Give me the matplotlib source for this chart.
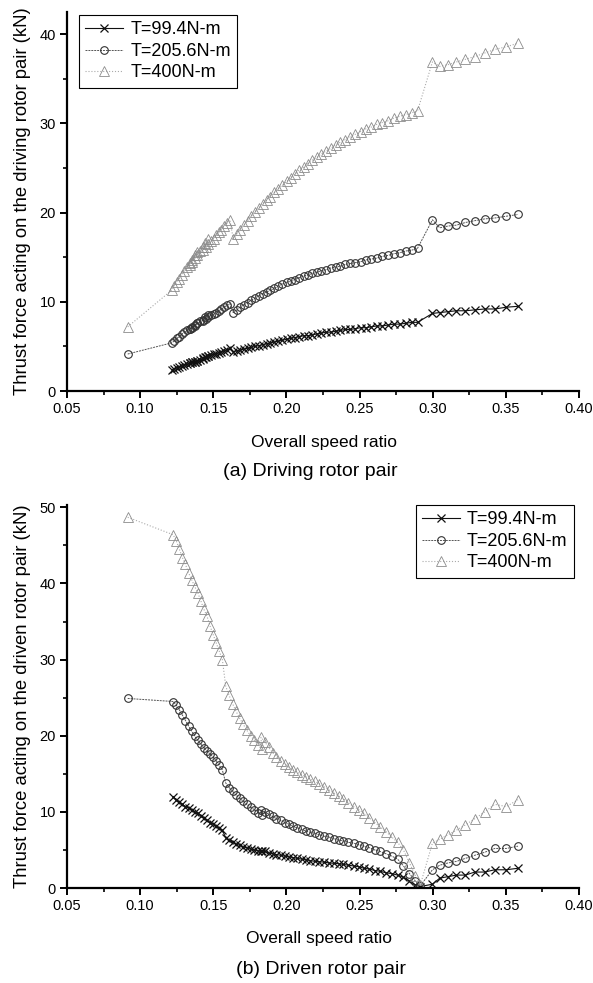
import numpy as np
import matplotlib
matplotlib.use('Agg')
import matplotlib.pyplot as plt
from matplotlib.ticker import MultipleLocator

plt.rcParams['font.family'] = ['Liberation Sans', 'DejaVu Sans']

labels = ['T=99.4N-m', 'T=205.6N-m', 'T=400N-m']

# ---- (a) driving rotor pair ----
# speed ratios in computation order (segments overlap, hence the saw-tooth)
drv_x = [0.0915,
         0.1215, 0.1233, 0.1250, 0.1268, 0.1285, 0.1303, 0.1320, 0.1338, 0.1355, 0.1373, 0.1390,
         0.1340, 0.1357, 0.1375, 0.1392, 0.1410, 0.1427, 0.1445, 0.1462,
         0.1430, 0.1448, 0.1466, 0.1484, 0.1502, 0.1520, 0.1538, 0.1556, 0.1574, 0.1592, 0.1613,
         0.1636, 0.1660, 0.1685, 0.1710, 0.1735, 0.1760, 0.1786, 0.1812, 0.1838, 0.1864,
         0.1891, 0.1918, 0.1945, 0.1973, 0.2001, 0.2029, 0.2058, 0.2087, 0.2117, 0.2147,
         0.2177, 0.2208, 0.2239, 0.2271, 0.2303, 0.2336, 0.2369, 0.2403, 0.2437, 0.2472,
         0.2507, 0.2543, 0.2580, 0.2617, 0.2655, 0.2694, 0.2734, 0.2774, 0.2815, 0.2857, 0.2896,
         0.2998, 0.3048, 0.3105, 0.3162, 0.3224, 0.3287, 0.3355, 0.3424, 0.3503, 0.3583]

# T=99.4 has no point at the lowest ratio
drv_t99 = [np.nan,
           2.4, 2.5, 2.6, 2.7, 2.8, 2.9, 3.0, 3.1, 3.2, 3.3, 3.4,
           3.1, 3.2, 3.3, 3.4, 3.5, 3.6, 3.8, 3.9,
           3.7, 3.8, 3.9, 4.0, 4.1, 4.2, 4.3, 4.4, 4.5, 4.6, 4.8,
           4.4, 4.5, 4.6, 4.7, 4.8, 4.9, 5.0, 5.1, 5.2, 5.3,
           5.4, 5.5, 5.6, 5.7, 5.8, 5.9, 6.0, 6.1, 6.2, 6.2,
           6.3, 6.4, 6.5, 6.6, 6.6, 6.7, 6.8, 6.9, 6.9, 7.0,
           7.1, 7.1, 7.2, 7.3, 7.3, 7.4, 7.5, 7.5, 7.6, 7.7, 7.7,
           8.7, 8.8, 8.9, 9.0, 9.0, 9.1, 9.2, 9.2, 9.4, 9.5]

drv_t205 = [4.15,
            5.4, 5.6, 5.9, 6.1, 6.4, 6.6, 6.8, 7.0, 7.2, 7.4, 7.6,
            6.9, 7.1, 7.3, 7.6, 7.8, 8.0, 8.3, 8.5,
            7.9, 8.1, 8.3, 8.5, 8.6, 8.8, 9.0, 9.2, 9.4, 9.6, 9.8,
            8.8, 9.1, 9.4, 9.7, 9.9, 10.2, 10.4, 10.7, 10.9, 11.1,
            11.3, 11.5, 11.8, 12.0, 12.2, 12.3, 12.5, 12.7, 12.9, 13.0,
            13.2, 13.3, 13.5, 13.6, 13.8, 13.9, 14.0, 14.2, 14.3, 14.4,
            14.5, 14.7, 14.8, 14.9, 15.1, 15.2, 15.4, 15.5, 15.7, 15.8, 16.0,
            19.2, 18.3, 18.5, 18.6, 18.9, 19.1, 19.3, 19.4, 19.6, 19.8]

drv_t400 = [7.2,
            11.3, 11.8, 12.2, 12.6, 13.0, 13.5, 13.9, 14.3, 14.7, 15.2, 15.6,
            14.1, 14.5, 14.9, 15.3, 15.7, 16.1, 16.6, 17.0,
            15.8, 16.2, 16.5, 16.8, 17.1, 17.5, 17.8, 18.1, 18.5, 18.8, 19.2,
            17.1, 17.6, 18.1, 18.6, 19.1, 19.6, 20.1, 20.5, 21.0, 21.4,
            21.8, 22.3, 22.7, 23.1, 23.5, 23.9, 24.3, 24.8, 25.1, 25.5,
            25.9, 26.2, 26.6, 26.9, 27.2, 27.6, 27.9, 28.2, 28.5, 28.8,
            29.1, 29.4, 29.6, 29.9, 30.1, 30.3, 30.6, 30.8, 31.0, 31.2, 31.4,
            36.9, 36.4, 36.6, 36.9, 37.2, 37.5, 37.9, 38.3, 38.6, 39.0]

# ---- (b) driven rotor pair ----
dvn_x = [0.0915,
         0.1226, 0.1247, 0.1268, 0.1289, 0.1310, 0.1331, 0.1352, 0.1373, 0.1394,
         0.1415, 0.1436, 0.1457, 0.1478, 0.1499, 0.1520, 0.1541, 0.1562,
         0.1585, 0.1608, 0.1632, 0.1656, 0.1680, 0.1705, 0.1730, 0.1755, 0.1780, 0.1806, 0.1832,
         0.1826, 0.1852, 0.1878, 0.1905, 0.1932, 0.1960, 0.1988, 0.2016, 0.2045, 0.2074,
         0.2104, 0.2134, 0.2164, 0.2195, 0.2226, 0.2258, 0.2290, 0.2323, 0.2356, 0.2390,
         0.2424, 0.2459, 0.2494, 0.2530, 0.2567, 0.2604, 0.2642, 0.2681, 0.2720, 0.2760,
         0.2800, 0.2841, 0.2882, 0.2915,
         0.2998, 0.3048, 0.3105, 0.3162, 0.3224, 0.3287, 0.3355, 0.3424, 0.3503, 0.3583]

dvn_t99 = [np.nan,
           12.0, 11.6, 11.3, 11.0, 10.7, 10.5, 10.2, 10.0, 9.8,
           9.5, 9.2, 8.9, 8.6, 8.4, 8.1, 7.9, 7.6,
           6.6, 6.3, 6.0, 5.8, 5.6, 5.4, 5.3, 5.1, 5.0, 4.9, 4.8,
           4.9, 4.8, 4.6, 4.5, 4.4, 4.3, 4.2, 4.1, 4.0, 3.9,
           3.8, 3.7, 3.6, 3.5, 3.45, 3.4, 3.3, 3.25, 3.2, 3.1,
           3.0, 2.9, 2.8, 2.6, 2.5, 2.3, 2.2, 2.0, 1.9, 1.7,
           1.4, 0.9, 0.4, 0.2,
           0.5, 1.3, 1.5, 1.7, 1.7, 2.1, 2.1, 2.4, 2.4, 2.6]

dvn_t205 = [24.9,
            24.5, 24.0, 23.4, 22.7, 22.0, 21.3, 20.6, 20.0, 19.4,
            18.9, 18.4, 18.0, 17.6, 17.2, 16.7, 16.1, 15.5,
            13.8, 13.2, 12.7, 12.2, 11.8, 11.4, 11.0, 10.6, 10.3, 9.9, 9.6,
            10.3, 10.0, 9.7, 9.4, 9.1, 8.9, 8.6, 8.4, 8.1, 7.9,
            7.7, 7.5, 7.3, 7.2, 7.0, 6.8, 6.7, 6.5, 6.3, 6.2,
            6.0, 5.9, 5.7, 5.5, 5.3, 5.0, 4.8, 4.5, 4.2, 3.8,
            2.9, 1.9, 0.9, 0.3,
            2.4, 3.0, 3.3, 3.5, 3.9, 4.3, 4.7, 5.2, 5.2, 5.5]

dvn_t400 = [48.7,
            46.4, 45.6, 44.5, 43.4, 42.5, 41.4, 40.5, 39.6, 38.8,
            37.7, 36.6, 35.7, 34.4, 33.3, 32.2, 31.1, 30.0,
            26.5, 25.3, 24.2, 23.2, 22.3, 21.5, 20.7, 20.0, 19.4, 18.8, 18.2,
            19.8, 19.2, 18.5, 17.8, 17.2, 16.7, 16.3, 15.9, 15.5, 15.2,
            14.9, 14.6, 14.3, 14.0, 13.7, 13.3, 12.9, 12.5, 12.1, 11.7,
            11.2, 10.7, 10.3, 9.8, 9.2, 8.6, 8.0, 7.4, 6.7, 6.0,
            5.0, 3.3, 1.6, 0.4,
            5.9, 6.4, 7.0, 7.6, 8.3, 9.1, 10.0, 11.0, 10.7, 11.6]

styles = [
    dict(color='#111111', ls='-', lw=0.8, marker='x', ms=6, mew=0.9,
         mfc='none', mec='#111111'),
    dict(color='#555555', ls=(0, (2, 1)), lw=0.7, marker='o', ms=5.5, mew=0.8,
         mfc='none', mec='#333333'),
    dict(color='#aaaaaa', ls=':', lw=0.8, marker='^', ms=6.5, mew=0.6,
         mfc='none', mec='#8c8c8c'),
]

fig = plt.figure(figsize=(5.93, 9.83), dpi=100)
ax1 = fig.add_axes([0.1130, 0.6022, 0.8634, 0.3856])
ax2 = fig.add_axes([0.1130, 0.0966, 0.8634, 0.3896])


def draw(ax, x, series, ylabel, ytop, ymajor, legend_loc, legend_anchor):
    for y, st, lab in zip(series, styles, labels):
        ax.plot(x, y, label=lab, **st)
    ax.set_xlim(0.05, 0.40)
    ax.set_ylim(0, ytop)
    ax.xaxis.set_major_locator(MultipleLocator(0.05))
    ax.xaxis.set_minor_locator(MultipleLocator(0.025))
    ax.yaxis.set_major_locator(MultipleLocator(ymajor))
    ax.yaxis.set_minor_locator(MultipleLocator(ymajor / 2))
    ax.xaxis.set_major_formatter(plt.FormatStrFormatter('%.2f'))
    for s in ['top', 'right']:
        ax.spines[s].set_visible(False)
    for s in ['left', 'bottom']:
        ax.spines[s].set_linewidth(1.6)
    ax.tick_params(which='major', direction='out', length=5, width=1.4,
                   labelsize=10.5, pad=3)
    ax.tick_params(which='minor', direction='out', length=3, width=1.2)
    ax.set_ylabel(ylabel, fontsize=13.3, labelpad=6)
    leg = ax.legend(loc=legend_loc, bbox_to_anchor=legend_anchor, fontsize=13,
                    fancybox=False, framealpha=1, edgecolor='black',
                    handlelength=2.1, handletextpad=0.4, labelspacing=0.25,
                    borderpad=0.35, borderaxespad=0)
    leg.get_frame().set_linewidth(0.8)


draw(ax1, drv_x, [drv_t99, drv_t205, drv_t400],
     'Thrust force acting on the driving rotor pair (kN)', 42.5, 10,
     'upper left', (0.023, 0.992))
draw(ax2, dvn_x, [dvn_t99, dvn_t205, dvn_t400],
     'Thrust force acting on the driven rotor pair (kN)', 50.3, 10,
     'upper right', (0.99, 1.0))

fig.text(0.547, 1 - 443 / 983, 'Overall speed ratio', ha='center', va='center', fontsize=12.5)
fig.text(0.523, 1 - 471 / 983, '(a) Driving rotor pair', ha='center', va='center', fontsize=14)
fig.text(0.538, 1 - 939 / 983, 'Overall speed ratio', ha='center', va='center', fontsize=12.5)
fig.text(0.541, 1 - 969 / 983, '(b) Driven rotor pair', ha='center', va='center', fontsize=14)

fig.savefig('out.png', dpi=100)
